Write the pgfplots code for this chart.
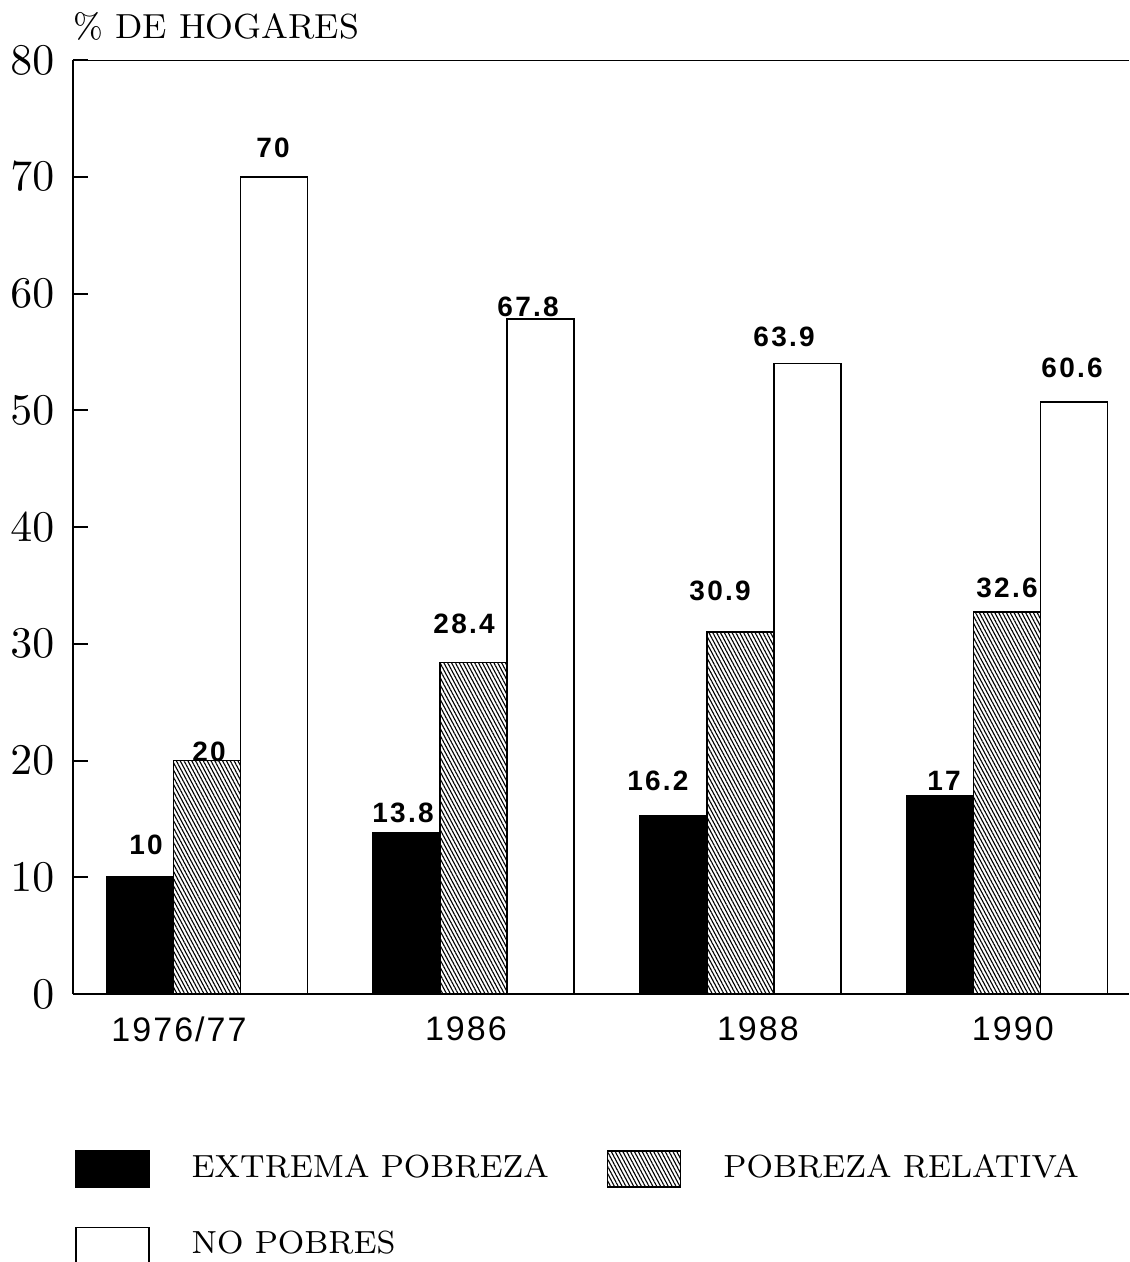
\documentclass[border=0pt]{standalone}
\usepackage{fontspec}
\usepackage{pgfplots}
\pgfplotsset{compat=1.18}
\usetikzlibrary{patterns.meta}
\newfontfamily\arialtick{Liberation Sans}[LetterSpace=6]
\newfontfamily\arialval{Liberation Sans}[LetterSpace=8]
\newcommand\vl[3]{\node[font=\arialval\bfseries\fontsize{7}{8}\selectfont, inner sep=0pt] at (axis cs:#1,#2) {#3};}
\begin{document}
\begin{tikzpicture}
\useasboundingbox (-18.25pt,-67pt) rectangle (264pt,248.5pt);
\begin{axis}[
  scale only axis, width=264pt, height=233.5pt,
  xmin=-0.5025, xmax=3.4575, ymin=0, ymax=80,
  axis lines*=left,
  axis line style={-, line width=0.6pt},
  ybar, bar width=0.2512,
  ytick={0,10,...,80},
  tick align=inside, major tick length=3.75pt,
  y tick style={line width=0.5pt, black},
  xtick={-0.105,0.971,2.066,3.022},
  xticklabels={1976/77,1986,1988,1990},
  x tick style={draw=none},
  yticklabel style={font=\fontsize{10.5}{12}\selectfont, inner sep=0pt, xshift=-4.5pt},
  xticklabel style={font=\arialtick\fontsize{8.5}{10}\selectfont, inner sep=0pt, yshift=-5.5pt},
  every axis y label/.style={at={(rel axis cs:0,1)}, anchor=base west, inner sep=0pt, yshift=5.5pt, font=\fontsize{8.7}{10}\selectfont},
  ylabel={\% DE HOGARES},
  legend columns=2,
  legend cell align=left,
  legend style={draw=none, fill=none, at={(0.0019,-0.167)}, anchor=north west,
    inner sep=0pt, outer sep=0pt, row sep=9.75pt,
    font=\fontsize{8}{10}\selectfont,
    nodes={inner sep=0pt},
    /tikz/every odd column/.style={column sep=10.5pt},
    /tikz/every even column/.style={column sep=14.5pt}},
  legend image code/.code={\draw[#1] (0pt,-4.5pt) rectangle (18.25pt,4.5pt);},
]
\addplot[fill=black, draw=black, line width=0.4pt, bar shift=-0.2512]
  coordinates {(0,10) (1,13.8) (2,15.3) (3,17.0)};
\addlegendentry{EXTREMA POBREZA}
\addplot[draw=black, line width=0.4pt, bar shift=0,
  pattern={Lines[angle=-62,distance=0.85pt,line width=0.28pt]}]
  coordinates {(0,20) (1,28.4) (2,31.0) (3,32.7)};
\addlegendentry{POBREZA RELATIVA}
\addplot[fill=white, draw=black, line width=0.4pt, bar shift=0.2512]
  coordinates {(0,70) (1,57.8) (2,54.0) (3,50.7)};
\addlegendentry{NO POBRES}
\draw[line width=0.6pt] (rel axis cs:0,1) -- (rel axis cs:1,1);
\vl{0.2475}{72.46}{70}
\vl{-0.2287}{12.76}{10}
\vl{0.0075}{20.73}{20}
\vl{0.735}{15.50}{13.8}
\vl{0.964}{31.69}{28.4}
\vl{1.204}{58.84}{67.8}
\vl{1.691}{18.24}{16.2}
\vl{1.924}{34.52}{30.9}
\vl{2.164}{56.27}{63.9}
\vl{2.764}{18.24}{17}
\vl{3.0}{34.78}{32.6}
\vl{3.244}{53.62}{60.6}
\end{axis}
\end{tikzpicture}
\end{document}
